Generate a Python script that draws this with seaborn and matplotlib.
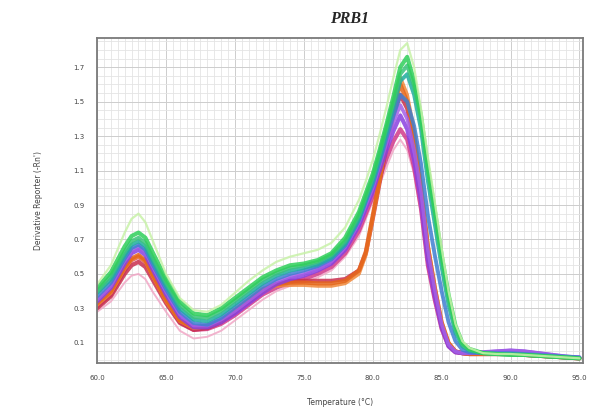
import numpy as np
import pandas as pd
import matplotlib
matplotlib.use("Agg")
import matplotlib.pyplot as plt
from matplotlib.ticker import MultipleLocator, FormatStrFormatter
import seaborn as sns

# ---- data ----
temperature = [60, 61, 62, 62.5, 63, 63.5, 64, 65, 66, 67, 68, 69, 70, 71, 72, 73, 74, 75, 76, 77,
               78, 79, 79.5, 80, 80.5, 81, 81.5, 82, 82.5, 83, 83.5, 84, 84.5, 85, 85.5, 86, 86.5, 87,
               88, 89, 90, 91, 92, 93, 94, 95]

light_pink = [0.28, 0.34, 0.45, 0.49, 0.50, 0.47, 0.40, 0.28, 0.17, 0.125, 0.135, 0.17, 0.23, 0.29, 0.35, 0.40, 0.43, 0.45, 0.48, 0.52, 0.60,
              0.72, 0.82, 0.92, 1.02, 1.12, 1.22, 1.28, 1.22, 1.08, 0.85, 0.53, 0.33, 0.17, 0.08, 0.045, 0.04, 0.035,
              0.035, 0.035, 0.035, 0.03, 0.025, 0.02, 0.015, 0.01]
magenta = [0.31, 0.38, 0.52, 0.58, 0.60, 0.57, 0.49, 0.34, 0.22, 0.175, 0.18, 0.21, 0.26, 0.32, 0.38, 0.42, 0.45, 0.47, 0.50, 0.54, 0.62,
           0.75, 0.85, 0.95, 1.06, 1.17, 1.27, 1.34, 1.28, 1.12, 0.88, 0.55, 0.35, 0.18, 0.08, 0.045, 0.04, 0.035,
           0.035, 0.035, 0.035, 0.03, 0.025, 0.02, 0.015, 0.01]
red = [0.30, 0.37, 0.50, 0.55, 0.57, 0.54, 0.47, 0.33, 0.215, 0.175, 0.185, 0.22, 0.28, 0.34, 0.40, 0.44, 0.46, 0.46, 0.46, 0.46, 0.47,
       0.52, 0.62, 0.82, 1.03, 1.24, 1.42, 1.54, 1.46, 1.27, 0.97, 0.63, 0.40, 0.20, 0.09, 0.05, 0.04, 0.035,
       0.035, 0.035, 0.035, 0.03, 0.025, 0.02, 0.015, 0.01]
orange_b = [0.32, 0.39, 0.53, 0.58, 0.60, 0.57, 0.49, 0.34, 0.225, 0.185, 0.195, 0.225, 0.285, 0.345, 0.40, 0.43, 0.435, 0.435, 0.43, 0.43, 0.445,
            0.50, 0.61, 0.82, 1.04, 1.27, 1.49, 1.64, 1.54, 1.33, 1.02, 0.67, 0.43, 0.22, 0.10, 0.05, 0.04, 0.035,
            0.035, 0.035, 0.035, 0.03, 0.025, 0.02, 0.015, 0.01]
orange_a = [0.33, 0.40, 0.54, 0.59, 0.61, 0.58, 0.50, 0.35, 0.23, 0.19, 0.20, 0.23, 0.29, 0.35, 0.41, 0.44, 0.45, 0.45, 0.445, 0.445, 0.46,
            0.52, 0.63, 0.84, 1.05, 1.27, 1.47, 1.60, 1.50, 1.30, 1.00, 0.66, 0.42, 0.22, 0.10, 0.05, 0.04, 0.035,
            0.035, 0.035, 0.035, 0.03, 0.025, 0.02, 0.015, 0.01]
purple_a = [0.34, 0.42, 0.56, 0.62, 0.64, 0.61, 0.53, 0.38, 0.25, 0.19, 0.19, 0.22, 0.27, 0.33, 0.39, 0.44, 0.47, 0.49, 0.52, 0.56, 0.64,
            0.78, 0.88, 0.98, 1.10, 1.22, 1.33, 1.42, 1.34, 1.16, 0.92, 0.58, 0.37, 0.19, 0.08, 0.045, 0.04, 0.04,
            0.045, 0.05, 0.055, 0.05, 0.04, 0.03, 0.02, 0.015]
purple_b = [0.35, 0.43, 0.58, 0.64, 0.66, 0.63, 0.55, 0.40, 0.265, 0.20, 0.20, 0.235, 0.285, 0.345, 0.405, 0.455, 0.485, 0.505, 0.535, 0.575, 0.655,
            0.80, 0.90, 1.00, 1.13, 1.26, 1.38, 1.48, 1.40, 1.22, 0.98, 0.64, 0.41, 0.21, 0.09, 0.05, 0.04, 0.04,
            0.045, 0.05, 0.055, 0.05, 0.04, 0.03, 0.02, 0.015]
blue = [0.37, 0.45, 0.59, 0.65, 0.67, 0.64, 0.56, 0.41, 0.28, 0.215, 0.205, 0.245, 0.305, 0.365, 0.425, 0.47, 0.50, 0.52, 0.545, 0.585, 0.665,
        0.81, 0.92, 1.02, 1.15, 1.29, 1.42, 1.54, 1.50, 1.36, 1.14, 0.84, 0.61, 0.40, 0.22, 0.11, 0.06, 0.045,
        0.04, 0.04, 0.04, 0.035, 0.03, 0.025, 0.02, 0.015]
teal = [0.39, 0.47, 0.61, 0.67, 0.69, 0.66, 0.58, 0.43, 0.30, 0.235, 0.225, 0.265, 0.325, 0.385, 0.445, 0.49, 0.52, 0.535, 0.555, 0.595, 0.675,
        0.82, 0.93, 1.04, 1.17, 1.32, 1.47, 1.62, 1.66, 1.54, 1.34, 1.04, 0.79, 0.54, 0.32, 0.16, 0.08, 0.055,
        0.04, 0.035, 0.035, 0.03, 0.025, 0.02, 0.015, 0.01]
green_b = [0.40, 0.49, 0.63, 0.69, 0.71, 0.68, 0.60, 0.45, 0.32, 0.25, 0.245, 0.285, 0.345, 0.405, 0.465, 0.505, 0.535, 0.55, 0.57, 0.61, 0.69,
           0.84, 0.95, 1.06, 1.20, 1.35, 1.50, 1.66, 1.71, 1.59, 1.40, 1.10, 0.85, 0.59, 0.36, 0.18, 0.09, 0.06,
           0.04, 0.035, 0.03, 0.03, 0.025, 0.02, 0.015, 0.01]
green_a = [0.42, 0.51, 0.66, 0.72, 0.74, 0.71, 0.63, 0.47, 0.34, 0.27, 0.26, 0.30, 0.36, 0.42, 0.48, 0.52, 0.55, 0.56, 0.58, 0.62, 0.71,
           0.86, 0.97, 1.08, 1.22, 1.37, 1.53, 1.70, 1.76, 1.62, 1.42, 1.12, 0.87, 0.61, 0.38, 0.20, 0.10, 0.065,
           0.04, 0.035, 0.03, 0.03, 0.025, 0.02, 0.015, 0.01]
light_green = [0.44, 0.55, 0.74, 0.82, 0.85, 0.80, 0.70, 0.50, 0.36, 0.29, 0.28, 0.32, 0.39, 0.46, 0.52, 0.57, 0.60, 0.62, 0.64, 0.68, 0.77,
               0.93, 1.04, 1.16, 1.31, 1.47, 1.64, 1.80, 1.84, 1.70, 1.46, 1.18, 0.92, 0.65, 0.40, 0.21, 0.11, 0.07,
               0.04, 0.035, 0.035, 0.03, 0.025, 0.02, 0.015, 0.01]

series_names = ["light_pink", "magenta", "red", "orange_b", "orange_a", "purple_a", "purple_b",
                "blue", "teal", "green_b", "green_a", "light_green"]
series_values = [light_pink, magenta, red, orange_b, orange_a, purple_a, purple_b,
                 blue, teal, green_b, green_a, light_green]
colors = ["#f1a7c6", "#d2398a", "#c92f4f", "#f0883a", "#e5661a", "#8a3fe0", "#a35fe8",
          "#3f7fd2", "#1fae9e", "#3bc47a", "#2fcf5a", "#c8f2a8"]
widths = [1.4, 3.0, 3.0, 2.6, 3.0, 3.0, 2.6, 2.8, 2.8, 2.8, 3.0, 1.6]

x_ticks = [60, 65, 70, 75, 80, 85, 90, 95]
y_ticks = [0.1, 0.3, 0.5, 0.7, 0.9, 1.1, 1.3, 1.5, 1.7]

rows = []
for name, vals in zip(series_names, series_values):
    for t, v in zip(temperature, vals):
        rows.append({"Temperature": t, "Value": v, "curve": name})
df = pd.DataFrame(rows)

sns.set_style("white")
plt.rcParams["font.family"] = ["DejaVu Sans"]

fig = plt.figure(figsize=(5.96, 4.17), dpi=100)
ax = fig.add_axes([0.163, 0.130, 0.815, 0.779])

# grid
ax.set_xlim(60, 95.25)
ax.set_ylim(-0.016, 1.87)
ax.xaxis.set_minor_locator(MultipleLocator(0.5))
ax.yaxis.set_minor_locator(MultipleLocator(0.05))
ax.grid(True, which="major", color="#cdcdcd", lw=0.7)
ax.grid(True, which="minor", color="#e4e4e4", lw=0.6)
ax.set_axisbelow(True)

pal = dict(zip(series_names, colors))
for name, lw in zip(series_names, widths):
    sub = df[df["curve"] == name]
    sns.lineplot(data=sub, x="Temperature", y="Value", color=pal[name], lw=lw,
                 alpha=0.85, ax=ax, legend=False, sort=False, solid_joinstyle="round")

ax.set_xticks(x_ticks)
ax.set_yticks(y_ticks)
ax.xaxis.set_major_formatter(FormatStrFormatter("%.1f"))
ax.yaxis.set_major_formatter(FormatStrFormatter("%.1f"))
ax.tick_params(axis="both", which="major", labelsize=5, colors="#555555",
               length=3, width=0.6, direction="out", pad=6)
ax.tick_params(axis="both", which="minor", length=0)
for lab in ax.get_xticklabels() + ax.get_yticklabels():
    lab.set_color("#444444")

for s in ax.spines.values():
    s.set_color("#7a7a7a")
    s.set_linewidth(1.3)

ax.set_xlabel("Temperature (\u00b0C)", fontsize=5.5, color="#444444", labelpad=12)
ax.set_ylabel("Derivative Reporter (-Rn')", fontsize=5.5, color="#444444", labelpad=22)

fig.text(0.587, 0.955, "PRB1", fontsize=11.5, fontweight="bold", fontstyle="italic",
         family="Liberation Serif", ha="center", va="center")

fig.savefig("out.png", dpi=100)
